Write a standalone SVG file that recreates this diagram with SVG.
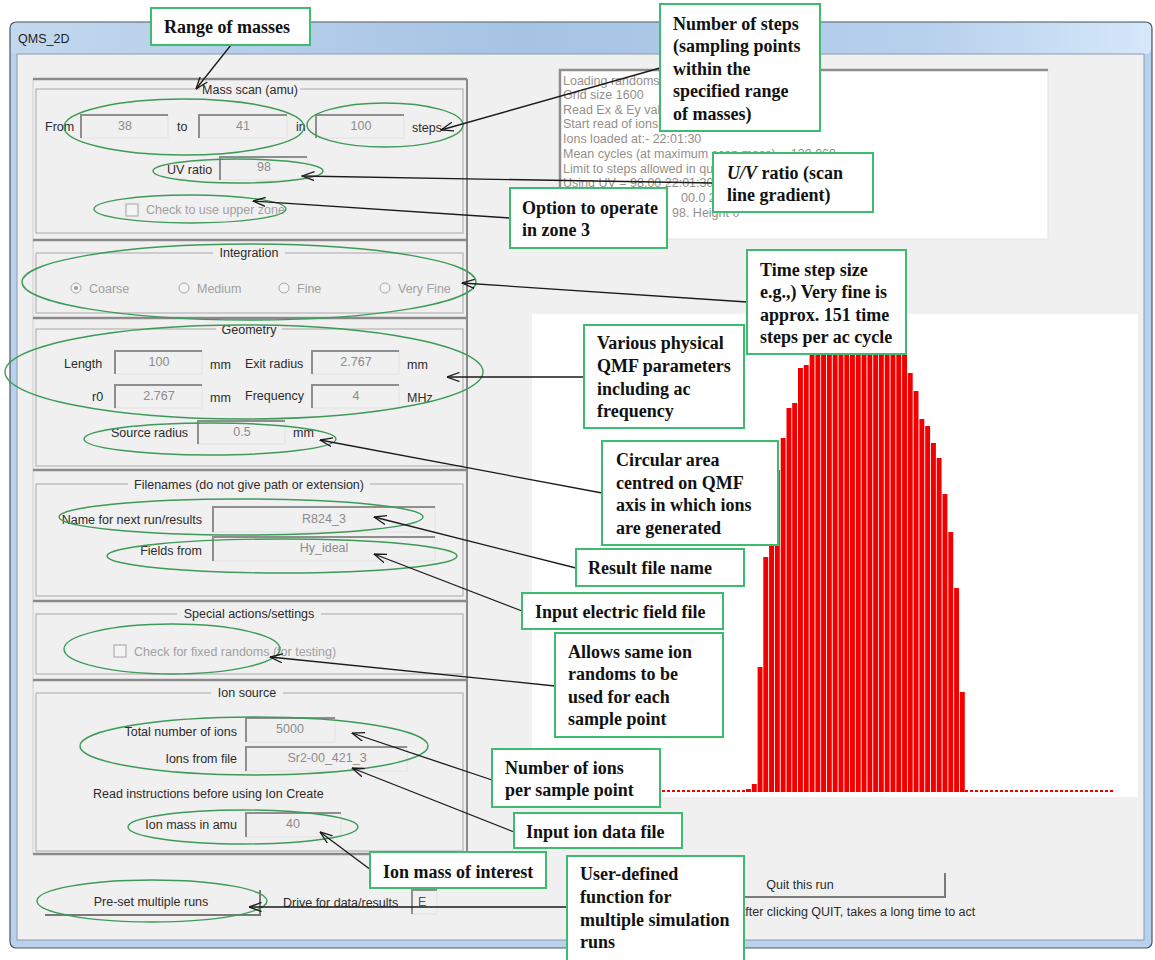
<svg xmlns="http://www.w3.org/2000/svg" width="1155" height="960" viewBox="0 0 1155 960">
  <defs>
    <linearGradient id="titleGrad" x1="0" y1="0" x2="1" y2="0">
      <stop offset="0" stop-color="#c3d8ee"/>
      <stop offset="0.45" stop-color="#a6c3e4"/>
      <stop offset="0.8" stop-color="#b7d0ec"/>
      <stop offset="1" stop-color="#d6e8fa"/>
    </linearGradient>
    <marker id="arr" viewBox="0 0 13 10" refX="12.5" refY="5" markerWidth="13" markerHeight="10" markerUnits="userSpaceOnUse" orient="auto">
      <path d="M0,0.5 L12.5,5 L0,9.5" fill="none" stroke="#1a1a1a" stroke-width="1.3"/>
    </marker>
    <style>
      .ui { font-family: "Liberation Sans", Arial, sans-serif; font-size: 12.5px; fill: #2b2b2b; }
      .dis { fill: #a0a0a0; }
      .val { fill: #8c8c8c; text-anchor: middle; }
      .rt { text-anchor: end; }
      .mid { text-anchor: middle; }
      .log { font-family: "Liberation Sans", Arial, sans-serif; font-size: 12.5px; fill: #968f88; }
      .tbx rect { fill: #f0f0f0; stroke: #e2e2e2; stroke-width: 1; }
      .tbx path { fill: none; stroke: #8e8e8e; stroke-width: 2; }
      .gbox { fill: none; stroke: #b4b4b4; stroke-width: 1.2; }
      .gtitle { fill: #f0f0f0; }
      .sep { stroke: #8a8a8a; stroke-width: 2.5; fill: none; }
      .side { stroke: #cfcfcf; stroke-width: 1; fill: none; }
      .ell { fill: none; stroke: #3d9a57; stroke-width: 1.4; }
      .note rect { fill: #ffffff; stroke: #3dbb6e; stroke-width: 2; }
      .note text { font-family: "Liberation Serif", "Times New Roman", serif; font-weight: bold; font-size: 18px; fill: #111111; }
      .conn line { stroke: #1a1a1a; stroke-width: 1.3; fill: none; marker-end: url(#arr); }
      .bar { fill: #f20000; }
      .btn rect { fill: #f0f0f0; }
      .btn path { fill: none; stroke: #7a7a7a; stroke-width: 2; }
      .radio { fill: #f4f4f4; stroke: #a8a8a8; stroke-width: 1; }
      .chk { fill: #f4f4f4; stroke: #b0b0b0; stroke-width: 1.2; }
    </style>
  </defs>

  <rect x="0" y="0" width="1155" height="960" fill="#ffffff"/>

  <!-- window frame -->
  <g id="window">
    <rect x="10" y="22" width="1142" height="926" rx="6" fill="#b8d2ee" stroke="#4f5660" stroke-width="1.2"/>
    <rect x="11" y="23" width="1140" height="31" rx="5" fill="url(#titleGrad)"/>
    <text x="18" y="43" class="ui" style="font-size:12.5px;fill:#1e1e1e">QMS_2D</text>
    <rect x="17" y="54" width="1127" height="886" fill="#f0f0f0" stroke="#8d9aab" stroke-width="1"/>
  </g>

  <!-- left-hand panels -->
  <g id="panels">
    <path class="side" d="M33,79 V854 M467,79 V854"/>
    <path class="sep" d="M33,79 H467 M33,240 H467 M33,318 H467 M33,470 H467 M33,601 H467 M33,680 H467 M33,854 H467"/>
    <path d="M467,79 V854" stroke="#8a8a8a" stroke-width="2" fill="none"/>
  </g>

  <!-- Mass scan -->
  <g id="mass-scan">
    <rect class="gbox" x="36" y="89" width="427" height="144"/>
    <rect class="gtitle" x="200" y="83" width="100" height="14"/>
    <text x="250" y="94" class="ui mid">Mass scan (amu)</text>
    <text x="45" y="131" class="ui">From</text>
    <g class="tbx"><rect x="81" y="115" width="87" height="23"/><path d="M81,138 V115 H168"/></g>
    <text x="125" y="130" class="ui val">38</text>
    <text x="177" y="131" class="ui">to</text>
    <g class="tbx"><rect x="199" y="115" width="88" height="23"/><path d="M199,138 V115 H287"/></g>
    <text x="243" y="130" class="ui val">41</text>
    <text x="296" y="131" class="ui">in</text>
    <g class="tbx"><rect x="316" y="115" width="88" height="23"/><path d="M316,138 V115 H404"/></g>
    <text x="361" y="130" class="ui val">100</text>
    <text x="412" y="132" class="ui">steps</text>
    <text x="167" y="174" class="ui">UV ratio</text>
    <g class="tbx"><rect x="220" y="157" width="87" height="23"/><path d="M220,180 V157 H307"/></g>
    <text x="264" y="171" class="ui val">98</text>
    <rect class="chk" x="126" y="204" width="12" height="12"/>
    <text x="146" y="214" class="ui dis">Check to use upper zone</text>
  </g>

  <!-- Integration -->
  <g id="integration">
    <rect class="gbox" x="36" y="253" width="427" height="60"/>
    <rect class="gtitle" x="213" y="246" width="72" height="14"/>
    <text x="249" y="257" class="ui mid">Integration</text>
    <circle class="radio" cx="76" cy="288" r="5"/>
    <circle cx="76" cy="288" r="2" fill="#9a9a9a"/>
    <text x="89" y="293" class="ui dis">Coarse</text>
    <circle class="radio" cx="184" cy="288" r="5"/>
    <text x="197" y="293" class="ui dis">Medium</text>
    <circle class="radio" cx="284" cy="288" r="5"/>
    <text x="297" y="293" class="ui dis">Fine</text>
    <circle class="radio" cx="385" cy="288" r="5"/>
    <text x="398" y="293" class="ui dis">Very Fine</text>
  </g>

  <!-- Geometry -->
  <g id="geometry">
    <rect class="gbox" x="36" y="329" width="427" height="137"/>
    <rect class="gtitle" x="216" y="322" width="66" height="14"/>
    <text x="249" y="334" class="ui mid">Geometry</text>
    <text x="64" y="368" class="ui">Length</text>
    <g class="tbx"><rect x="115" y="351" width="87" height="23"/><path d="M115,374 V351 H202"/></g>
    <text x="159" y="366" class="ui val">100</text>
    <text x="210" y="369" class="ui">mm</text>
    <text x="245" y="368" class="ui">Exit radius</text>
    <g class="tbx"><rect x="312" y="351" width="87" height="23"/><path d="M312,374 V351 H399"/></g>
    <text x="356" y="366" class="ui val">2.767</text>
    <text x="407" y="369" class="ui">mm</text>
    <text x="92" y="401" class="ui">r0</text>
    <g class="tbx"><rect x="115" y="385" width="87" height="23"/><path d="M115,408 V385 H202"/></g>
    <text x="159" y="400" class="ui val">2.767</text>
    <text x="210" y="402" class="ui">mm</text>
    <text x="245" y="400" class="ui">Frequency</text>
    <g class="tbx"><rect x="312" y="385" width="87" height="23"/><path d="M312,408 V385 H399"/></g>
    <text x="356" y="400" class="ui val">4</text>
    <text x="407" y="402" class="ui">MHz</text>
    <text x="111" y="437" class="ui">Source radius</text>
    <g class="tbx"><rect x="198" y="421" width="87" height="23"/><path d="M198,444 V421 H285"/></g>
    <text x="242" y="436" class="ui val">0.5</text>
    <text x="293" y="437" class="ui">mm</text>
  </g>

  <!-- Filenames -->
  <g id="filenames">
    <rect class="gbox" x="36" y="484" width="427" height="112"/>
    <rect class="gtitle" x="128" y="477" width="242" height="14"/>
    <text x="249" y="489" class="ui mid">Filenames (do not give path or extension)</text>
    <text x="202" y="524" class="ui rt">Name for next run/results</text>
    <g class="tbx"><rect x="213" y="507" width="222" height="25"/><path d="M213,532 V507 H435"/></g>
    <text x="324" y="523" class="ui val">R824_3</text>
    <text x="202" y="555" class="ui rt">Fields from</text>
    <g class="tbx"><rect x="213" y="537" width="222" height="24"/><path d="M213,561 V537 H435"/></g>
    <text x="324" y="552" class="ui val">Hy_ideal</text>
  </g>

  <!-- Special actions/settings -->
  <g id="special">
    <rect class="gbox" x="36" y="614" width="427" height="60"/>
    <rect class="gtitle" x="177" y="607" width="144" height="14"/>
    <text x="249" y="618" class="ui mid">Special actions/settings</text>
    <rect class="chk" x="114" y="645" width="12" height="12"/>
    <text x="134" y="656" class="ui dis">Check for fixed randoms (for testing)</text>
  </g>

  <!-- Ion source -->
  <g id="ion-source">
    <rect class="gbox" x="36" y="693" width="427" height="158"/>
    <rect class="gtitle" x="211" y="686" width="72" height="14"/>
    <text x="247" y="697" class="ui mid">Ion source</text>
    <text x="237" y="736" class="ui rt">Total number of ions</text>
    <g class="tbx"><rect x="246" y="718" width="89" height="24"/><path d="M246,742 V718 H335"/></g>
    <text x="290" y="733" class="ui val">5000</text>
    <text x="237" y="763" class="ui rt">Ions from file</text>
    <g class="tbx"><rect x="246" y="747" width="161" height="24"/><path d="M246,771 V747 H407"/></g>
    <text x="327" y="762" class="ui val">Sr2-00_421_3</text>
    <text x="93" y="798" class="ui">Read instructions before using Ion Create</text>
    <text x="237" y="829" class="ui rt">Ion mass in amu</text>
    <g class="tbx"><rect x="246" y="813" width="95" height="24"/><path d="M246,837 V813 H341"/></g>
    <text x="293" y="828" class="ui val">40</text>
  </g>

  <!-- bottom controls -->
  <g id="preset-button" class="btn">
    <rect x="45" y="890" width="215" height="25"/>
    <path d="M45,915 H260 V890"/>
    <text x="151" y="906" class="ui mid">Pre-set multiple runs</text>
  </g>
  <g id="drive">
    <text x="283" y="907" class="ui">Drive for data/results</text>
    <g class="tbx"><rect x="412" y="890" width="25" height="24"/><path d="M412,914 V890 H437"/></g>
    <text x="418" y="906" class="ui" style="fill:#555">E</text>
  </g>
  <g id="quit-button" class="btn">
    <rect x="655" y="873" width="290" height="24"/>
    <path d="M655,897 H945 V873"/>
    <text x="800" y="889" class="ui mid">Quit this run</text>
  </g>
  <text x="737" y="916" class="ui">After clicking QUIT, takes a long time to act</text>

  <!-- run log -->
  <g id="log">
    <rect x="560" y="70" width="488" height="169" fill="#ffffff" stroke="#e3e3e3" stroke-width="1"/>
    <path d="M560,239 V70 H1048" fill="none" stroke="#8e8e8e" stroke-width="2.5"/>
    <text class="log" x="563" y="85">Loading randoms</text>
    <text class="log" x="563" y="99">Grid size 1600</text>
    <text class="log" x="563" y="114">Read Ex &amp; Ey values</text>
    <text class="log" x="563" y="128">Start read of ions</text>
    <text class="log" x="563" y="143">Ions loaded at:- 22:01:30</text>
    <text class="log" x="563" y="158">Mean cycles (at maximum scan mass) -- 129.969</text>
    <text class="log" x="563" y="173">Limit to steps allowed in qua</text>
    <text class="log" x="563" y="187">Using UV = 98.00  22:01:30</text>
    <text class="log" x="681" y="202">00.0  22</text>
    <text class="log" x="672" y="217">98.  Height 0</text>
  </g>

  <!-- scan histogram -->
  <g id="plot">
    <rect x="532" y="314" width="606" height="483" fill="#ffffff"/>
    <path d="M532,791 H746 M965,791 H1114" stroke="#f20000" stroke-width="2" stroke-dasharray="3 2" fill="none"/>
    <g id="bars">
      <rect class="bar" x="746.0" y="789" width="4.9" height="3"/>
      <rect class="bar" x="751.8" y="784" width="4.9" height="8"/>
      <rect class="bar" x="757.6" y="667" width="4.9" height="125"/>
      <rect class="bar" x="763.3" y="557" width="4.9" height="235"/>
      <rect class="bar" x="769.1" y="520" width="4.9" height="272"/>
      <rect class="bar" x="774.9" y="470" width="4.9" height="322"/>
      <rect class="bar" x="780.7" y="438" width="4.9" height="354"/>
      <rect class="bar" x="786.5" y="408" width="4.9" height="384"/>
      <rect class="bar" x="792.2" y="403" width="4.9" height="389"/>
      <rect class="bar" x="798.0" y="368" width="4.9" height="424"/>
      <rect class="bar" x="803.8" y="365" width="4.9" height="427"/>
      <rect class="bar" x="809.6" y="345" width="4.9" height="447"/>
      <rect class="bar" x="815.4" y="335" width="4.9" height="457"/>
      <rect class="bar" x="821.1" y="325" width="4.9" height="467"/>
      <rect class="bar" x="826.9" y="318" width="4.9" height="474"/>
      <rect class="bar" x="832.7" y="314" width="4.9" height="478"/>
      <rect class="bar" x="838.5" y="314" width="4.9" height="478"/>
      <rect class="bar" x="844.3" y="314" width="4.9" height="478"/>
      <rect class="bar" x="850.0" y="314" width="4.9" height="478"/>
      <rect class="bar" x="855.8" y="314" width="4.9" height="478"/>
      <rect class="bar" x="861.6" y="314" width="4.9" height="478"/>
      <rect class="bar" x="867.4" y="314" width="4.9" height="478"/>
      <rect class="bar" x="873.2" y="314" width="4.9" height="478"/>
      <rect class="bar" x="878.9" y="314" width="4.9" height="478"/>
      <rect class="bar" x="884.7" y="320" width="4.9" height="472"/>
      <rect class="bar" x="890.5" y="330" width="4.9" height="462"/>
      <rect class="bar" x="896.3" y="342" width="4.9" height="450"/>
      <rect class="bar" x="902.1" y="352" width="4.9" height="440"/>
      <rect class="bar" x="907.8" y="373" width="4.9" height="419"/>
      <rect class="bar" x="913.6" y="391" width="4.9" height="401"/>
      <rect class="bar" x="919.4" y="419" width="4.9" height="373"/>
      <rect class="bar" x="925.2" y="426" width="4.9" height="366"/>
      <rect class="bar" x="931.0" y="443" width="4.9" height="349"/>
      <rect class="bar" x="936.7" y="458" width="4.9" height="334"/>
      <rect class="bar" x="942.5" y="494" width="4.9" height="298"/>
      <rect class="bar" x="948.3" y="532" width="4.9" height="260"/>
      <rect class="bar" x="954.1" y="588" width="4.9" height="204"/>
      <rect class="bar" x="959.9" y="692" width="4.9" height="100"/>
    </g>
  </g>

  <!-- highlighted controls -->
  <g id="highlights">
    <ellipse class="ell" cx="184" cy="127" rx="120" ry="28"/>
    <ellipse class="ell" cx="385" cy="125" rx="78" ry="22"/>
    <ellipse class="ell" cx="238" cy="171" rx="85" ry="12"/>
    <ellipse class="ell" cx="190" cy="209" rx="96" ry="14"/>
    <ellipse class="ell" cx="249" cy="282" rx="227" ry="38"/>
    <ellipse class="ell" cx="244" cy="372" rx="239" ry="47"/>
    <ellipse class="ell" cx="210" cy="439" rx="126" ry="16"/>
    <ellipse class="ell" cx="241" cy="517" rx="182" ry="18"/>
    <ellipse class="ell" cx="282" cy="556" rx="175" ry="17"/>
    <ellipse class="ell" cx="172" cy="649" rx="108" ry="25"/>
    <ellipse class="ell" cx="254" cy="746" rx="174" ry="29"/>
    <ellipse class="ell" cx="243" cy="827" rx="115" ry="17"/>
    <ellipse class="ell" cx="152" cy="901" rx="115" ry="21"/>
  </g>

  <!-- connectors -->
  <g id="connectors" class="conn">
    <line x1="231" y1="45" x2="196" y2="89"/>
    <line x1="660" y1="68" x2="441" y2="130"/>
    <line x1="713" y1="183" x2="302" y2="176"/>
    <line x1="510" y1="218" x2="253" y2="201"/>
    <line x1="747" y1="302" x2="462" y2="283"/>
    <line x1="584" y1="377" x2="447" y2="377"/>
    <line x1="602" y1="493" x2="320" y2="440"/>
    <line x1="576" y1="568" x2="374" y2="517"/>
    <line x1="522" y1="611" x2="374" y2="554"/>
    <line x1="555" y1="686" x2="270" y2="657"/>
    <line x1="492" y1="780" x2="352" y2="733"/>
    <line x1="514" y1="832" x2="352" y2="768"/>
    <line x1="371" y1="870" x2="320" y2="832"/>
    <line x1="567" y1="907" x2="249" y2="907"/>
  </g>

  <!-- annotation notes -->
  <g id="note-range" class="note">
    <rect x="151" y="8" width="159" height="37"/>
    <text x="164" y="33">Range of masses</text>
  </g>
  <g id="note-steps" class="note">
    <rect x="660" y="4" width="160" height="127"/>
    <text x="673" y="30">Number of steps<tspan x="673" dy="22.4">(sampling points</tspan><tspan x="673" dy="22.4">within the</tspan><tspan x="673" dy="22.4">specified range</tspan><tspan x="673" dy="22.4">of masses)</tspan></text>
  </g>
  <g id="note-uv" class="note">
    <rect x="713" y="153" width="160" height="59"/>
    <text x="727" y="179"><tspan font-style="italic">U/V</tspan> ratio (scan<tspan x="727" dy="22.4">line gradient)</tspan></text>
  </g>
  <g id="note-zone" class="note">
    <rect x="510" y="188" width="157" height="60"/>
    <text x="522" y="214">Option to operate<tspan x="522" dy="22.4">in zone 3</tspan></text>
  </g>
  <g id="note-timestep" class="note">
    <rect x="747" y="250" width="159" height="104"/>
    <text x="760" y="276">Time step  size<tspan x="760" dy="22.4">e.g.,) Very  fine is</tspan><tspan x="760" dy="22.4">approx. 151 time</tspan><tspan x="760" dy="22.4">steps per ac cycle</tspan></text>
  </g>
  <g id="note-geometry" class="note">
    <rect x="584" y="325" width="160" height="103"/>
    <text x="597" y="349">Various  physical<tspan x="597" dy="22.8">QMF parameters</tspan><tspan x="597" dy="22.8">including ac</tspan><tspan x="597" dy="22.8">frequency</tspan></text>
  </g>
  <g id="note-source" class="note">
    <rect x="602" y="441" width="176" height="104"/>
    <text x="616" y="466">Circular  area<tspan x="616" dy="22.7">centred on QMF</tspan><tspan x="616" dy="22.7">axis  in which  ions</tspan><tspan x="616" dy="22.7">are  generated</tspan></text>
  </g>
  <g id="note-result" class="note">
    <rect x="576" y="549" width="168" height="37"/>
    <text x="588" y="574">Result file  name</text>
  </g>
  <g id="note-fields" class="note">
    <rect x="522" y="593" width="201" height="36"/>
    <text x="535" y="618">Input electric field file</text>
  </g>
  <g id="note-randoms" class="note">
    <rect x="555" y="633" width="168" height="104"/>
    <text x="568" y="658">Allows  same ion<tspan x="568" dy="22.4">randoms to be</tspan><tspan x="568" dy="22.4">used for each</tspan><tspan x="568" dy="22.4">sample point</tspan></text>
  </g>
  <g id="note-ions" class="note">
    <rect x="492" y="749" width="168" height="58"/>
    <text x="505" y="774">Number of ions<tspan x="505" dy="22">per sample  point</tspan></text>
  </g>
  <g id="note-ionfile" class="note">
    <rect x="514" y="813" width="168" height="35"/>
    <text x="526" y="838">Input ion  data file</text>
  </g>
  <g id="note-ionmass" class="note">
    <rect x="370" y="852" width="176" height="36"/>
    <text x="383" y="878">Ion mass of interest</text>
  </g>
  <g id="note-multi" class="note">
    <rect x="567" y="856" width="177" height="110"/>
    <text x="580" y="880">User-defined<tspan x="580" dy="23">function for</tspan><tspan x="580" dy="23">multiple  simulation</tspan><tspan x="580" dy="22">runs</tspan></text>
  </g>
</svg>
